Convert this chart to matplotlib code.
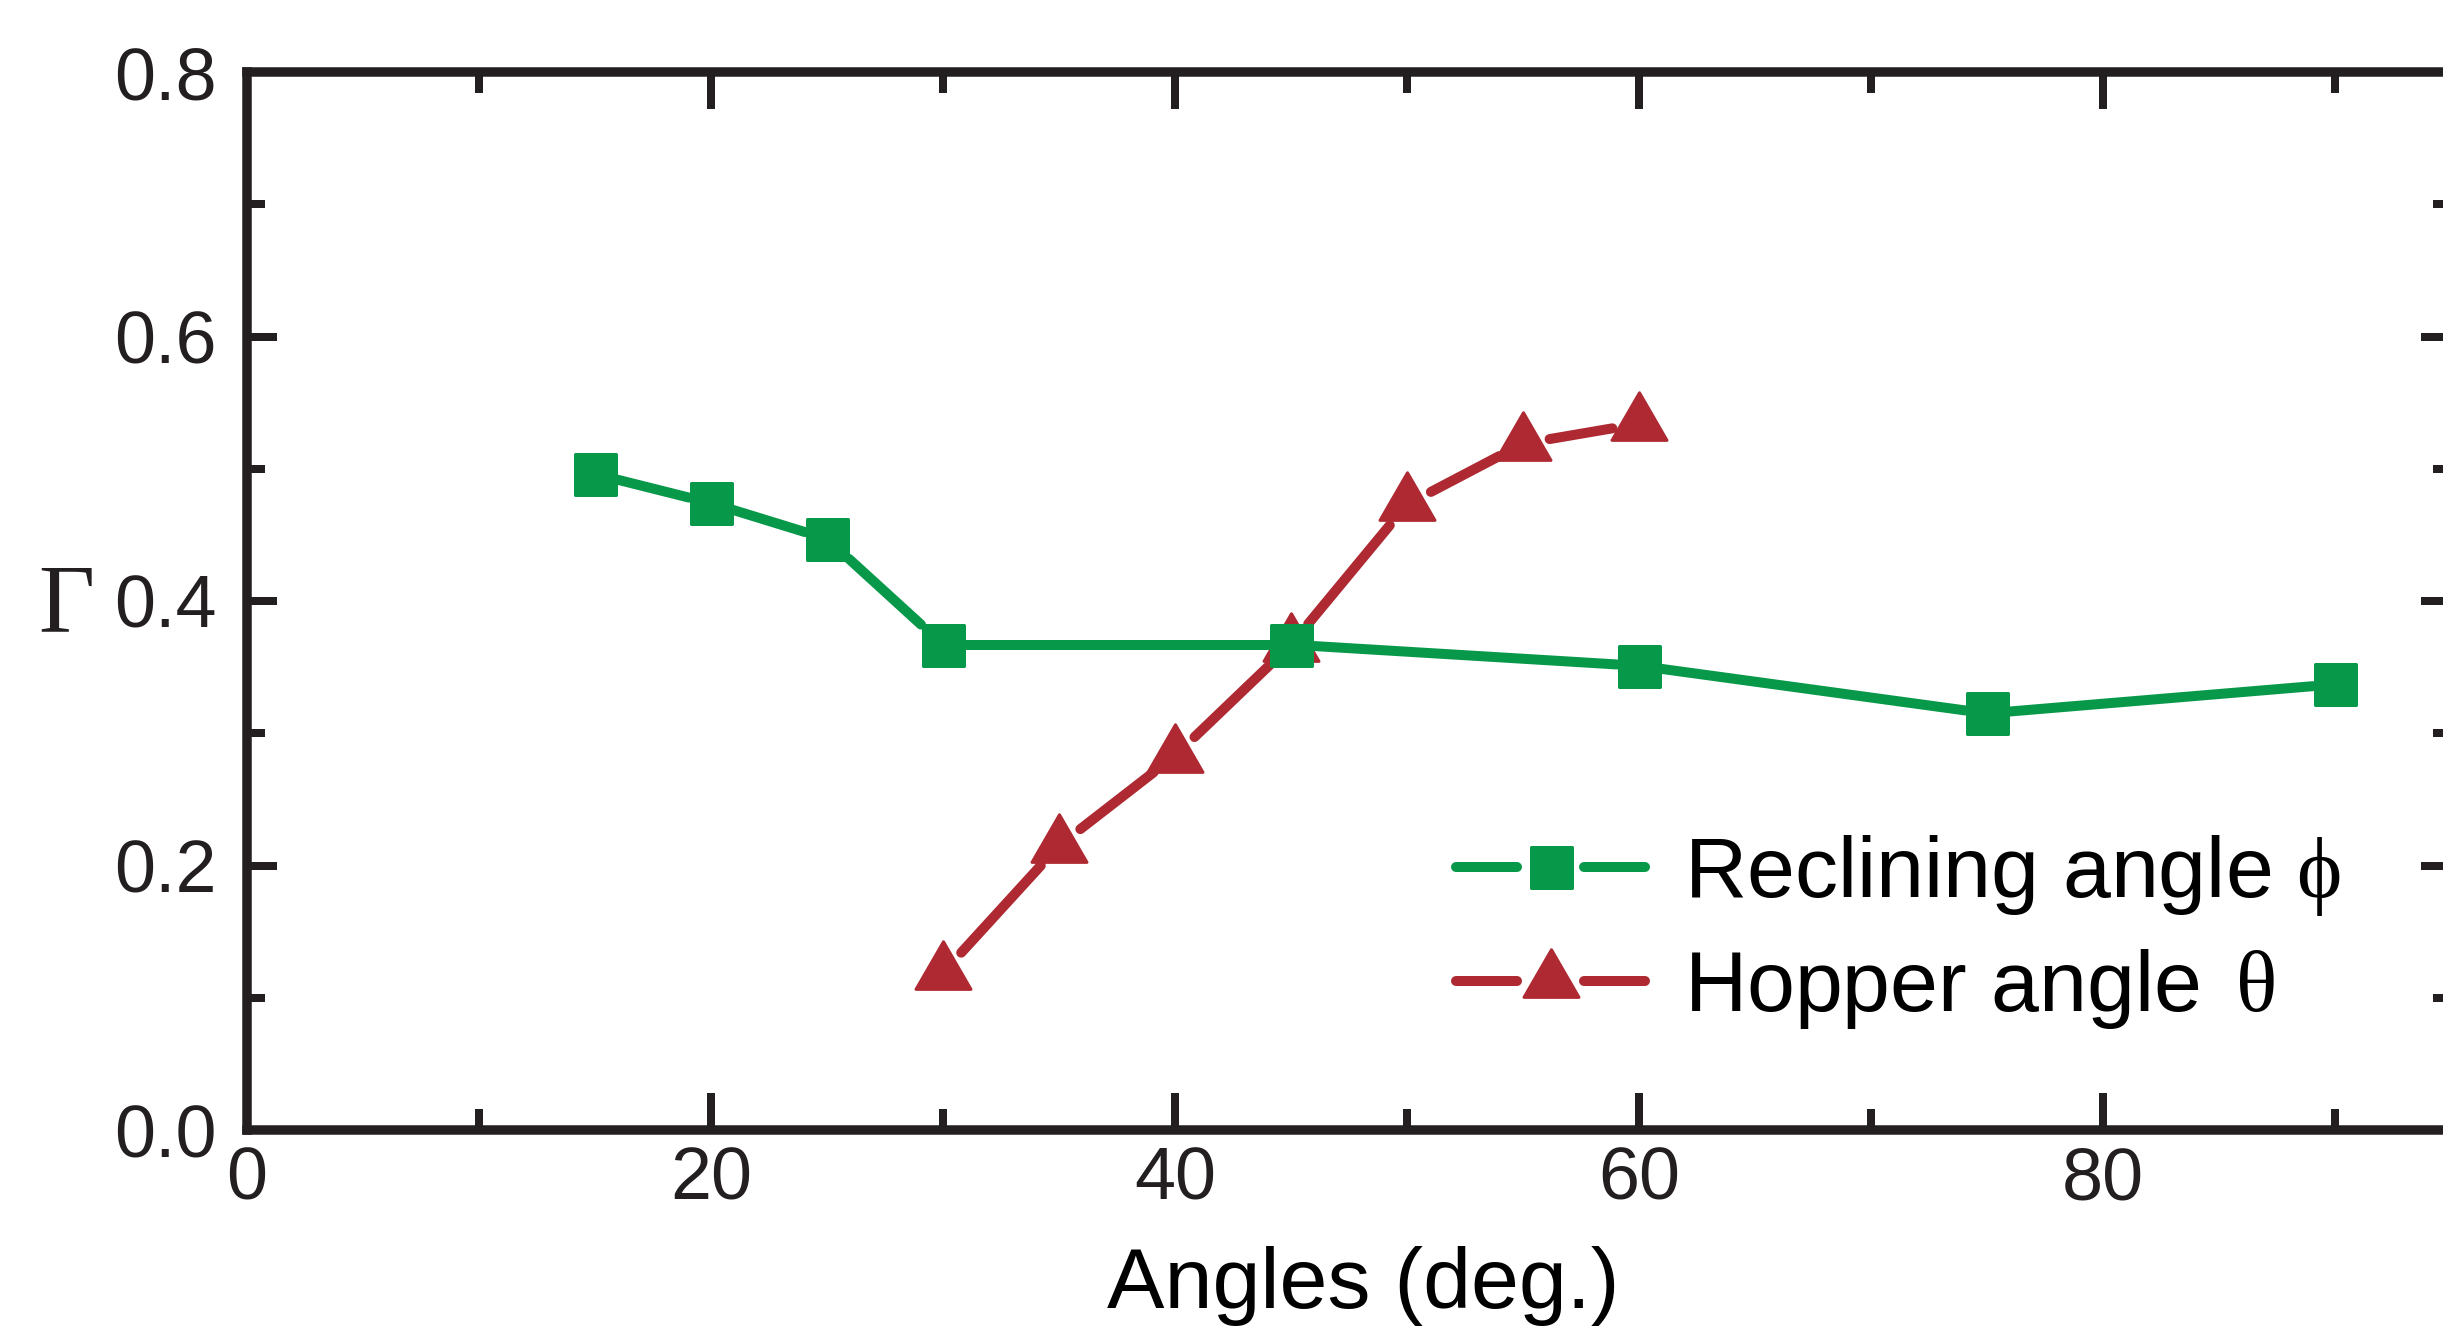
import numpy as np
import matplotlib
matplotlib.use("Agg")
import matplotlib.pyplot as plt
from matplotlib.collections import LineCollection
from matplotlib.legend_handler import HandlerBase
from matplotlib.lines import Line2D
from matplotlib.markers import MarkerStyle
from matplotlib.path import Path
from matplotlib.ticker import MultipleLocator

# ---------------- data ----------------
reclining_x = [15, 20, 25, 30, 45, 60, 75, 90]
reclining_y = [0.496, 0.474, 0.447, 0.367, 0.367, 0.351, 0.315, 0.337]
hopper_x = [30, 35, 40, 45, 50, 55, 60]
hopper_y = [0.119, 0.215, 0.283, 0.367, 0.473, 0.519, 0.534]
x_ticks = [0, 20, 40, 60, 80]
y_ticks = [0.0, 0.2, 0.4, 0.6, 0.8]
y_tick_labels = ["0.0", "0.2", "0.4", "0.6", "0.8"]
series_labels = ["Reclining angle $\\mathrm{\\phi}$", "Hopper angle $\\,\\mathrm{\\theta}$"]
x_label = "Angles (deg.)"
y_label = "\u0393"

# ---------------- style ----------------
plt.rcParams["font.family"] = ["Liberation Sans", "DejaVu Sans"]
plt.rcParams["mathtext.fontset"] = "custom"
plt.rcParams["mathtext.rm"] = "Liberation Serif"
plt.rcParams["mathtext.it"] = "Liberation Serif:italic"

GREEN = "#07984A"
RED = "#AE2932"
DARK = "#231F20"
PX = 72.0 / 100.0  # points per pixel

W, H = 2443, 1327
L, R, T, B = 247, 2451, 72, 1130

fig = plt.figure(figsize=(W / 100, H / 100), dpi=100)
ax = fig.add_axes([L / W, 1 - B / H, (R - L) / W, (B - T) / H])
ax.set_xlim(0, 95)
ax.set_ylim(0, 0.8)

for s in ax.spines.values():
    s.set_linewidth(9.5 * PX)
    s.set_color(DARK)
    s.set_capstyle("projecting")

ax.set_xticks(x_ticks)
ax.set_xticklabels([str(v) for v in x_ticks])
ax.set_yticks(y_ticks)
ax.set_yticklabels(y_tick_labels)
ax.xaxis.set_minor_locator(MultipleLocator(10))
ax.yaxis.set_minor_locator(MultipleLocator(0.1))
ax.tick_params(which="both", direction="in", top=True, right=True, color=DARK,
               labelcolor=DARK, labelsize=53)
ax.tick_params(axis="x", which="major", length=37 * PX, width=8 * PX, pad=11)
ax.tick_params(axis="x", which="minor", length=21 * PX, width=8 * PX)
ax.tick_params(axis="y", which="major", length=30 * PX, width=8 * PX, pad=22)
ax.tick_params(axis="y", which="minor", length=18 * PX, width=8 * PX)

ax.set_xlabel(x_label, fontsize=62, color="black")
ax.xaxis.label.set_va("baseline")
ax.xaxis.set_label_coords((1363 - L) / (R - L), -(1307.7 - B) / (B - T))
ax.set_ylabel(y_label, fontsize=70, rotation=0, family=["Liberation Serif"], color=DARK)
ax.yaxis.label.set_va("baseline")
ax.yaxis.label.set_ha("center")
ax.yaxis.set_label_coords((66.5 - L) / (R - L), (B - 631) / (B - T))

# ---------------- markers ----------------
LW_PX = 10.0
SQ_HALF = 22.0
SQ_GAP = 5.0
TRI_R = 32.0

sq_marker = MarkerStyle("s", joinstyle="round")
h_tri = np.sqrt(3) / 2
tri_path = Path([(0, 2 * h_tri / 3), (-0.5, -h_tri / 3), (0.5, -h_tri / 3), (0, 2 * h_tri / 3)],
                [Path.MOVETO, Path.LINETO, Path.LINETO, Path.CLOSEPOLY])
tri_marker = MarkerStyle(tri_path, joinstyle="round")

SQ_MS = 41 * PX
SQ_MEW = 3 * PX
TRI_MS = 55 * 2 / np.sqrt(3) * PX
TRI_MEW = 3 * PX


def gapped_segments(xs, ys, kind):
    P = ax.transData.transform(np.column_stack([xs, ys]))
    inv = ax.transData.inverted()
    segs = []
    for a, b in zip(P[:-1], P[1:]):
        d = b - a
        u = d / np.hypot(*d)
        if kind == "square":
            r = SQ_HALF / max(abs(u[0]), abs(u[1])) + SQ_GAP
        else:
            r = TRI_R
        r -= LW_PX / 2
        segs.append(inv.transform(np.array([a + u * r, b - u * r])))
    return segs


red_lc = LineCollection(gapped_segments(hopper_x, hopper_y, "tri"), colors=RED,
                        linewidths=LW_PX * PX, capstyle="round", zorder=2)
ax.add_collection(red_lc)
ax.plot(hopper_x, hopper_y, linestyle="none", marker=tri_marker, ms=TRI_MS,
        mfc=RED, mec=RED, mew=TRI_MEW, zorder=3, clip_on=False)
green_lc = LineCollection(gapped_segments(reclining_x, reclining_y, "square"), colors=GREEN,
                          linewidths=LW_PX * PX, capstyle="round", zorder=4)
ax.add_collection(green_lc)
ax.plot(reclining_x, reclining_y, linestyle="none", marker=sq_marker, ms=SQ_MS,
        mfc=GREEN, mec=GREEN, mew=SQ_MEW, zorder=5, clip_on=False)


# ---------------- legend ----------------
class GapHandler(HandlerBase):
    def __init__(self, gap_pt, **kw):
        super().__init__(**kw)
        self.gap = gap_pt

    def create_artists(self, legend, orig_handle, xdescent, ydescent, width, height,
                       fontsize, trans):
        y = (height - ydescent) / 2.0
        x0 = -xdescent
        x1 = -xdescent + width
        xm = (x0 + x1) / 2.0
        lw = orig_handle.get_linewidth()
        c = orig_handle.get_color()
        l1 = Line2D([x0 + lw / 2, xm - self.gap - lw / 2], [y, y], color=c, lw=lw,
                    solid_capstyle="round")
        l2 = Line2D([xm + self.gap + lw / 2, x1 - lw / 2], [y, y], color=c, lw=lw,
                    solid_capstyle="round")
        m = Line2D([xm], [y])
        m.update_from(orig_handle)
        m.set_linestyle("none")
        for a in (l1, l2, m):
            a.set_transform(trans)
        return [l1, l2, m]


h1 = Line2D([], [], color=GREEN, lw=LW_PX * PX, marker=sq_marker, ms=SQ_MS,
            mfc=GREEN, mec=GREEN, mew=SQ_MEW)
h2 = Line2D([], [], color=RED, lw=LW_PX * PX, marker=tri_marker, ms=TRI_MS,
            mfc=RED, mec=RED, mew=TRI_MEW)
LEG_FS = 62
leg = ax.legend([h1, h2], series_labels, handler_map={Line2D: GapHandler(28.5 * PX)},
                loc="center left", bbox_to_anchor=(1451 / W, 1 - 932 / H),
                bbox_transform=fig.transFigure, frameon=False, fontsize=LEG_FS,
                borderpad=0, borderaxespad=0, handlelength=(199 * PX) / LEG_FS,
                handletextpad=0.40, labelspacing=0.33)
for t in leg.get_texts():
    t.set_color("black")

fig.savefig("out.png", dpi=100)
